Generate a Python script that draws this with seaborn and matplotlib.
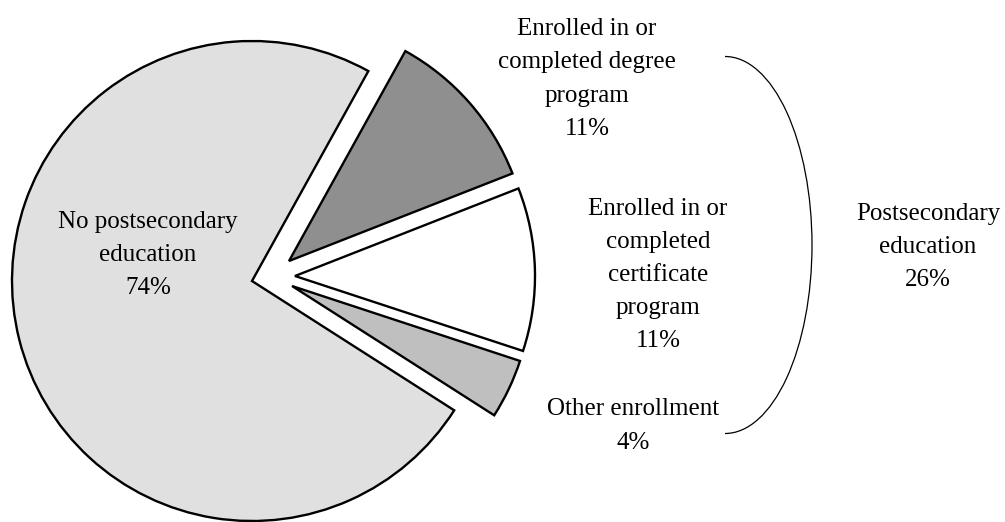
import matplotlib
matplotlib.use("Agg")
import matplotlib.pyplot as plt
from matplotlib.patches import Arc
import seaborn as sns

# shares of youth by postsecondary status (percent)
categories = ["Enrolled in or\ncompleted degree\nprogram",
              "Enrolled in or\ncompleted\ncertificate\nprogram",
              "Other enrollment",
              "No postsecondary\neducation"]
shares = [11, 11, 4, 74]
group_label = "Postsecondary\neducation"
group_share = 26

colors = ["#8f8f8f", "#ffffff", "#bfbfbf", "#e0e0e0"]
# the small slices are pulled out mostly to the right (data units)
offsets = [(37, 20), (43, 5), (40, -5), (0, 0)]

sns.set_theme(style="white")
plt.rcParams["font.family"] = ["Liberation Serif", "DejaVu Serif"]

fig = plt.figure(figsize=(10.05, 5.22), dpi=100)
ax = fig.add_axes([0, 0, 1, 1])

cx, cy = 252, 241
wedges, _ = ax.pie(shares, colors=colors, startangle=61,
                   counterclock=False, center=(cx, cy), radius=240,
                   wedgeprops=dict(edgecolor="black", linewidth=1.7))
for w, (dx, dy) in zip(wedges, offsets):
    w.set_center((cx + dx, cy + dy))
ax.set_xlim(0, 1005)
ax.set_ylim(0, 522)
ax.set_aspect("equal")
ax.axis("off")

fs = 18
ls = 1.65
labels = [f"{c}\n{s}%" for c, s in zip(categories, shares)]
label_pos = [(587, 522 - 79), (658, 522 - 275), (633, 522 - 426), (148, 522 - 255)]
for txt, (x, y) in zip(labels, label_pos):
    ax.text(x, y, txt, ha="center", va="center", fontsize=fs,
            linespacing=ls, color="black")

# bracket around the postsecondary slices
ax.add_patch(Arc((725, 522 - 245), 2 * 87, 377, theta1=-90, theta2=90,
                 color="black", linewidth=0.9))
ax.text(928, 522 - 247, f"{group_label}\n{group_share}%", ha="center",
        va="center", fontsize=fs, linespacing=ls, color="black")

fig.savefig("out.png", dpi=100)
